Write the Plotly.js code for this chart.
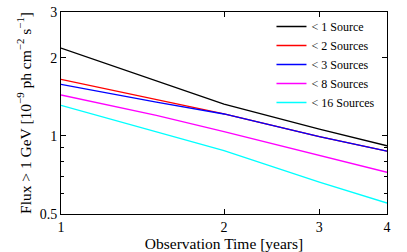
<!DOCTYPE html>
<html><head><meta charset="utf-8">
<script src="https://cdn.plot.ly/plotly-3.0.1.min.js"></script>
<style>html,body{margin:0;padding:0;background:#fff}#c{width:407px;height:252px}</style>
</head><body><div id="c"></div>
<script>
const years = [1, 1.5, 2, 3, 4];
const names = ["< 1 Source", "< 2 Sources", "< 3 Sources", "< 8 Sources", "< 16 Sources"];
const src1 = [2.18, 1.627, 1.326, 1.062, 0.916];
const src2 = [1.65, 1.378, 1.216, 0.993, 0.874];
const src3 = [1.58, 1.348, 1.214, 0.993, 0.874];
const src8 = [1.437, 1.20, 1.038, 0.840, 0.724];
const src16 = [1.31, 1.033, 0.877, 0.663, 0.551];
const colors = ["#000000", "#ff0000", "#0000ff", "#ff00ff", "#00ffff"];
const xTicks = [1, 2, 3, 4];
const xTickText = ["1", "2", "3", "4"];
const yTicks = [0.5, 1, 2, 3];
const yTickText = ["0.5", "1", "2", "3"];
const yMinor = [0.6, 0.7, 0.8, 0.9];

const series = [src1, src2, src3, src8, src16];
const font = "'Liberation Serif', 'Times New Roman', serif";
const traces = series.map((s, i) => ({
  x: years, y: s, type: "scatter", mode: "lines", name: names[i],
  line: {color: colors[i], width: 1.3}
}));
const layout = {
  width: 407, height: 252,
  margin: {l: 61, r: 20, t: 12, b: 38},
  paper_bgcolor: "#fff", plot_bgcolor: "#fff",
  font: {family: font, size: 14, color: "#000"},
  showlegend: true,
  legend: {x: 0.98, y: 1.0, xanchor: "right", yanchor: "top", bgcolor: "rgba(0,0,0,0)",
           font: {family: font, size: 12}, tracegroupgap: 0, itemwidth: 30},
  xaxis: {
    type: "log", range: [0, Math.log10(4)],
    tickvals: xTicks, ticktext: xTickText, ticks: "inside", ticklen: 5, tickcolor: "#000",
    showline: true, mirror: "allticks", linecolor: "#000", linewidth: 1,
    showgrid: false, zeroline: false,
    title: {text: "Observation Time [years]", font: {family: font, size: 15.5}, standoff: 2},
    tickfont: {family: font, size: 14}
  },
  yaxis: {
    type: "log", range: [Math.log10(0.5), Math.log10(3)],
    tickvals: yTicks, ticktext: yTickText, ticks: "inside", ticklen: 5, tickcolor: "#000",
    showline: true, mirror: "allticks", linecolor: "#000", linewidth: 1,
    showgrid: false, zeroline: false,
    minor: {tickvals: yMinor, ticks: "inside", ticklen: 3, tickcolor: "#000", showgrid: false},
    title: {text: "Flux > 1 GeV [10<sup>−9</sup> ph cm<sup>−2</sup> s<sup>−1</sup>]", font: {family: font, size: 15.5}, standoff: 4},
    tickfont: {family: font, size: 14}
  }
};
Plotly.newPlot("c", traces, layout, {displayModeBar: false, staticPlot: true});
</script></body></html>
